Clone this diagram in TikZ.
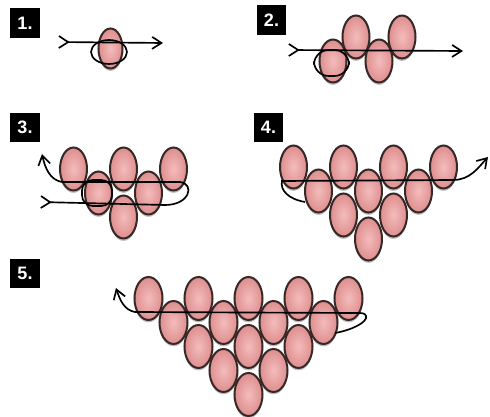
\documentclass[tikz,border=0pt]{standalone}
\usepackage{fontspec}
\setsansfont{Liberation Sans}
\usepackage{tikz}
\usetikzlibrary{arrows.meta,shadows}
\definecolor{beadpink}{RGB}{222,142,142}
\definecolor{beadlight}{RGB}{244,188,188}
\definecolor{beadline}{RGB}{55,40,40}

\begin{document}
\begin{tikzpicture}[x=0.75pt,y=0.75pt,yscale=-1,xscale=1,
  bead/.style={draw=beadline,line width=1.5pt,inner color=beadlight,outer color=beadpink,drop shadow={shadow xshift=0pt,shadow yshift=-1.8pt,opacity=0.25,fill=black}},
  thread/.style={line width=1.25pt},
  tip/.style={-{Straight Barb[length=7pt,width=9pt]}},
  tailtip/.style={{Straight Barb[reversed,length=7pt,width=9pt]}-{Straight Barb[length=7pt,width=9pt]}},
  numbox/.style={fill=black,text=white,font=\sffamily\bfseries\fontsize{13.5}{14}\selectfont,minimum width=22pt,minimum height=22pt,inner sep=0pt}]
\useasboundingbox (0,0) rectangle (490,417);

% Text Node
\node [numbox] (lab1) at (25,23) {1.};
\node [numbox] (lab2) at (271.5,20) {2.};
\node [numbox] (lab3) at (25,127.5) {3.};
\node [numbox] (lab4) at (268.5,127.5) {4.};
\node [numbox] (lab5) at (25,273.5) {5.};

%Shape: Ellipse (panel 1)
\draw [bead] (110.5,48.5) ellipse (12 and 20);
%Straight Lines
\draw [thread,tailtip] (58,42) -- (163,43);
%Shape: Loop
\draw [thread] (109,52) ellipse (18 and 12);

%Shape: Ellipse (panel 2)
\draw [bead] (356,37) ellipse (13.5 and 21.5);
\draw [bead] (402,37) ellipse (13.5 and 21.5);
\draw [bead] (333,61) ellipse (13.5 and 21.5);
\draw [bead] (379,61) ellipse (13.5 and 21.5);
%Straight Lines
\draw [thread,tailtip] (288,50) -- (463,51);
%Shape: Loop
\draw [thread,rounded corners=11] (314,50) rectangle (349,76);

%Shape: Ellipse (panel 3)
\draw [bead] (73.5,169) ellipse (13.5 and 21.5);
\draw [bead] (123.5,169) ellipse (13.5 and 21.5);
\draw [bead] (173.5,169) ellipse (13.5 and 21.5);
\draw [bead] (98.5,193) ellipse (13.5 and 21.5);
\draw [bead] (148.5,193) ellipse (13.5 and 21.5);
\draw [bead] (123.5,217) ellipse (13.5 and 21.5);
%Curve Lines
\draw [thread,tailtip] (40,202) -- (165,205) .. controls (190,205) and (195,184) .. (180,182) -- (62,182) .. controls (50,180) and (45,168) .. (42,154);
%Shape: Loop
\draw [thread,rounded corners=8] (82,180) rectangle (112,206);

%Shape: Ellipse (panel 4)
\draw [bead] (293.5,167) ellipse (13.5 and 21.5);
\draw [bead] (343.5,167) ellipse (13.5 and 21.5);
\draw [bead] (393.5,167) ellipse (13.5 and 21.5);
\draw [bead] (443.5,167) ellipse (13.5 and 21.5);
\draw [bead] (318.5,191) ellipse (13.5 and 21.5);
\draw [bead] (368.5,191) ellipse (13.5 and 21.5);
\draw [bead] (418.5,191) ellipse (13.5 and 21.5);
\draw [bead] (343.5,215) ellipse (13.5 and 21.5);
\draw [bead] (393.5,215) ellipse (13.5 and 21.5);
\draw [bead] (368.5,239) ellipse (13.5 and 21.5);
%Curve Lines
\draw [thread,tip] (305,202) .. controls (288,199) and (280,190) .. (282,181) -- (453,180) .. controls (470,180) and (478,168) .. (488,157);

%Shape: Ellipse (panel 5)
\draw [bead] (148.5,298.5) ellipse (14 and 21.5);
\draw [bead] (198.5,298.5) ellipse (14 and 21.5);
\draw [bead] (248.5,298.5) ellipse (14 and 21.5);
\draw [bead] (298.5,298.5) ellipse (14 and 21.5);
\draw [bead] (348.5,298.5) ellipse (14 and 21.5);
\draw [bead] (173.5,322.5) ellipse (14 and 21.5);
\draw [bead] (223.5,322.5) ellipse (14 and 21.5);
\draw [bead] (273.5,322.5) ellipse (14 and 21.5);
\draw [bead] (323.5,322.5) ellipse (14 and 21.5);
\draw [bead] (198.5,346.5) ellipse (14 and 21.5);
\draw [bead] (248.5,346.5) ellipse (14 and 21.5);
\draw [bead] (298.5,346.5) ellipse (14 and 21.5);
\draw [bead] (223.5,370.5) ellipse (14 and 21.5);
\draw [bead] (273.5,370.5) ellipse (14 and 21.5);
\draw [bead] (248.5,394.5) ellipse (14 and 21.5);
%Curve Lines
\draw [thread,tip] (335,333) .. controls (352,330) and (368,322) .. (366,316) .. controls (365,313) and (362,313) .. (357,313) -- (135,312) .. controls (124,310) and (120,300) .. (116,288);

\end{tikzpicture}
\end{document}
